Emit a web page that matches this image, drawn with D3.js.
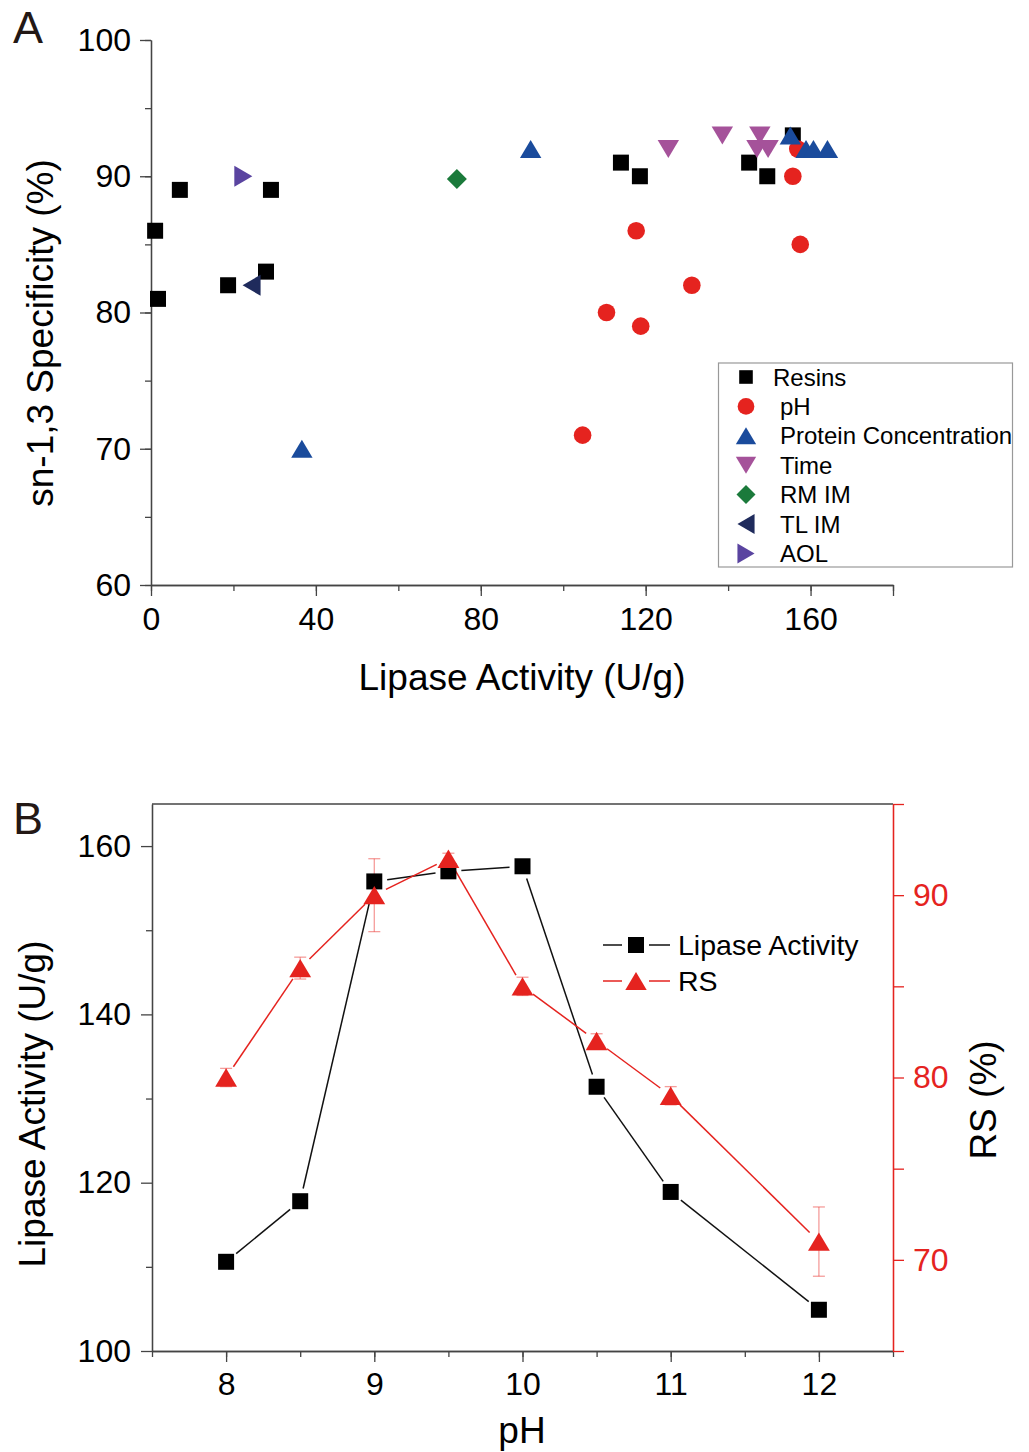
<!DOCTYPE html>
<html>
<head>
<meta charset="utf-8">
<script src="https://cdnjs.cloudflare.com/ajax/libs/d3/7.8.5/d3.min.js"></script>
<style>
  body { margin: 0; background: #fff; }
  svg { display: block; font-family: "Liberation Sans", Arial, sans-serif; }
</style>
</head>
<body>
<div id="chart-area"></div>
<script>
// ---- Panel A data: sn-1,3 specificity vs lipase activity ----
var resinsX = [1.0, 1.7, 7.0, 18.7, 27.9, 29.1, 114.0, 118.6, 145.1, 149.5, 155.7];
var resinsY = [86, 81, 89, 82, 83, 89, 91, 90, 91, 90, 93];
var phX = [104.7, 110.5, 117.7, 118.8, 131.2, 155.7, 156.9, 157.5];
var phY = [71, 80, 86, 79, 82, 90, 92, 85];
var proteinX = [36.6, 92.1, 155.1, 158.9, 160.7, 164.1];
var proteinY = [70, 92, 93, 92, 92, 92];
var timeX = [125.5, 138.6, 147.7, 147.0, 149.7];
var timeY = [92, 93, 93, 92, 92];
var rmX = [74.2], rmY = [89.8];
var tlX = [24.4], tlY = [82];
var aolX = [22.4], aolY = [90];
var seriesNamesA = ["Resins", "pH", "Protein Concentration", "Time", "RM IM", "TL IM", "AOL"];
var xTicksA = [0, 40, 80, 120, 160];
var yTicksA = [60, 70, 80, 90, 100];

// ---- Panel B data: effect of pH ----
var pHs = [8, 8.5, 9, 9.5, 10, 10.5, 11, 12];
var activity = [110.6, 117.8, 155.8, 157.0, 157.6, 131.4, 118.9, 104.9];
var rs = [80, 86, 90, 92, 85, 82, 79, 71];
var rsErr = [0.5, 0.6, 2.0, 0.3, 0.5, 0.4, 0.5, 1.9];
var seriesNamesB = ["Lipase Activity", "RS"];
var xTicksB = [8, 9, 10, 11, 12];
var yTicksBLeft = [100, 120, 140, 160];
var yTicksBRight = [70, 80, 90];

var RED = "#e5231f";
var AXIS = "#444";

var svg = d3.select("#chart-area")
  .append("svg")
    .attr("width", 1029)
    .attr("height", 1452);

svg.append("rect").attr("width", 1029).attr("height", 1452).attr("fill", "#fff");

// marker shapes, centred on (0,0)
function shape(type) {
  switch (type) {
    case "square": return "M-8,-8H8V8H-8Z";
    case "circle": return "M8.8,0A8.8,8.8 0 1,1 -8.8,0A8.8,8.8 0 1,1 8.8,0Z";
    case "up": return "M0,-9L10.7,9H-10.7Z";
    case "down": return "M0,9L10.7,-9H-10.7Z";
    case "diamond": return "M0,-10L10,0L0,10L-10,0Z";
    case "left": return "M-9,0L9,-10.5V10.5Z";
    case "right": return "M9,0L-9,-10.5V10.5Z";
  }
}

function styleAxis(sel, size, color) {
  sel.select(".domain").attr("stroke", color).attr("stroke-width", 1.3);
  sel.selectAll(".tick line").attr("stroke", color).attr("stroke-width", 1.3);
  sel.selectAll(".tick text")
    .attr("font-size", size)
    .attr("font-family", "Liberation Sans, Arial, sans-serif")
    .attr("fill", color === AXIS ? "#000" : color);
}

// ================= PANEL A =================
var xA = d3.scaleLinear().domain([0, 180]).range([151, 893]);
var yA = d3.scaleLinear().domain([60, 100]).range([585, 40]);

// minor ticks
svg.append("g")
  .attr("transform", "translate(0,585)")
  .call(d3.axisBottom(xA).tickValues(d3.range(0, 181, 20)).tickSize(6).tickSizeOuter(0).tickFormat(""))
  .call(styleAxis, 32, AXIS);
svg.append("g")
  .attr("transform", "translate(151,0)")
  .call(d3.axisLeft(yA).tickValues(d3.range(60, 101, 5)).tickSize(6).tickSizeOuter(0).tickFormat(""))
  .call(styleAxis, 32, AXIS);
// major ticks
svg.append("g")
  .attr("transform", "translate(0,585)")
  .call(d3.axisBottom(xA).tickValues(xTicksA.concat([180])).tickSize(11).tickPadding(11).tickSizeOuter(0)
    .tickFormat(function(d){ return d === 180 ? "" : d; }))
  .call(styleAxis, 32, AXIS);
svg.append("g")
  .attr("transform", "translate(151,0)")
  .call(d3.axisLeft(yA).tickValues(yTicksA).tickSize(11).tickPadding(9).tickSizeOuter(0))
  .call(styleAxis, 32, AXIS);

svg.append("text")
  .attr("x", 522).attr("y", 690)
  .attr("text-anchor", "middle")
  .attr("font-size", 37)
  .text("Lipase Activity (U/g)");

svg.append("text")
  .attr("transform", "translate(53,333) rotate(-90)")
  .attr("text-anchor", "middle")
  .attr("font-size", 37)
  .text("sn-1,3 Specificity (%)");

svg.append("text")
  .attr("x", 13).attr("y", 43)
  .attr("font-size", 45)
  .attr("fill", "#231815")
  .text("A");

var groupsA = [
  { xs: resinsX, ys: resinsY, type: "square", color: "#000" },
  { xs: phX, ys: phY, type: "circle", color: RED },
  { xs: proteinX, ys: proteinY, type: "up", color: "#1a4b9c" },
  { xs: timeX, ys: timeY, type: "down", color: "#a5529a" },
  { xs: rmX, ys: rmY, type: "diamond", color: "#1b7a3b" },
  { xs: tlX, ys: tlY, type: "left", color: "#1f2b5c" },
  { xs: aolX, ys: aolY, type: "right", color: "#5a44a0" }
];

groupsA.forEach(function(gr) {
  svg.append("g").selectAll("path")
    .data(gr.xs.map(function(x, i){ return [x, gr.ys[i]]; }))
    .enter().append("path")
      .attr("d", shape(gr.type))
      .attr("fill", gr.color)
      .attr("transform", function(d){ return "translate(" + xA(d[0]) + "," + yA(d[1]) + ")"; });
});

// legend A
var legA = svg.append("g");
legA.append("rect")
  .attr("x", 718.5).attr("y", 363).attr("width", 294).attr("height", 204)
  .attr("fill", "#fff").attr("stroke", "#999").attr("stroke-width", 1.2);
seriesNamesA.forEach(function(name, i) {
  var cy = 377 + i * 29.4;
  legA.append("path")
    .attr("d", shape(groupsA[i].type))
    .attr("fill", groupsA[i].color)
    .attr("transform", "translate(746," + cy + ")" + (i === 0 ? " scale(0.85)" : " scale(0.95)"));
  legA.append("text")
    .attr("x", i === 0 ? 773 : 780).attr("y", cy + 8.5)
    .attr("font-size", 24)
    .text(name);
});

// ================= PANEL B =================
var xB = d3.scaleLinear().domain([7.5, 12.5]).range([152, 893]);
var yBL = d3.scaleLinear().domain([100, 165]).range([1351, 804]);
var yBR = d3.scaleLinear().domain([65, 95]).range([1351, 804]);

// frame top
svg.append("line")
  .attr("x1", 152).attr("x2", 893).attr("y1", 804).attr("y2", 804)
  .attr("stroke", AXIS).attr("stroke-width", 1.3);

svg.append("g")
  .attr("transform", "translate(0,1351)")
  .call(d3.axisBottom(xB).tickValues(d3.range(7.5, 12.6, 0.5)).tickSize(6).tickSizeOuter(0).tickFormat(""))
  .call(styleAxis, 32, AXIS);
svg.append("g")
  .attr("transform", "translate(0,1351)")
  .call(d3.axisBottom(xB).tickValues(xTicksB).tickSize(11).tickPadding(10).tickSizeOuter(0).tickFormat(d3.format("d")))
  .call(styleAxis, 32, AXIS);

svg.append("g")
  .attr("transform", "translate(152,0)")
  .call(d3.axisLeft(yBL).tickValues([110, 130, 150]).tickSize(6).tickSizeOuter(0).tickFormat(""))
  .call(styleAxis, 32, AXIS);
svg.append("g")
  .attr("transform", "translate(152,0)")
  .call(d3.axisLeft(yBL).tickValues(yTicksBLeft).tickSize(11).tickPadding(10).tickSizeOuter(0))
  .call(styleAxis, 32, AXIS);

svg.append("g")
  .attr("transform", "translate(893,0)")
  .call(d3.axisRight(yBR).tickValues([65, 75, 85, 95]).tickSize(11).tickSizeOuter(0).tickFormat(""))
  .call(styleAxis, 32, RED);
svg.append("g")
  .attr("transform", "translate(893,0)")
  .call(d3.axisRight(yBR).tickValues(yTicksBRight).tickSize(11).tickPadding(9).tickSizeOuter(0))
  .call(styleAxis, 32, RED);

svg.append("text")
  .attr("x", 522).attr("y", 1443)
  .attr("text-anchor", "middle")
  .attr("font-size", 37)
  .text("pH");

svg.append("text")
  .attr("transform", "translate(45,1104) rotate(-90)")
  .attr("text-anchor", "middle")
  .attr("font-size", 37)
  .text("Lipase Activity (U/g)");

svg.append("text")
  .attr("transform", "translate(996,1100) rotate(-90)")
  .attr("text-anchor", "middle")
  .attr("font-size", 37)
  .text("RS (%)");

svg.append("text")
  .attr("x", 13).attr("y", 834)
  .attr("font-size", 45)
  .attr("fill", "#231815")
  .text("B");

// connecting segments that stop short of the markers
function gappedLines(xs, ys, xScale, yScale, color, gap) {
  var pts = xs.map(function(x, i){ return [xScale(x), yScale(ys[i])]; });
  var segs = d3.pairs(pts).map(function(p) {
    var dx = p[1][0] - p[0][0], dy = p[1][1] - p[0][1];
    var len = Math.sqrt(dx * dx + dy * dy);
    var ux = dx / len, uy = dy / len;
    return [p[0][0] + ux * gap, p[0][1] + uy * gap, p[1][0] - ux * gap, p[1][1] - uy * gap];
  });
  svg.append("g").selectAll("line")
    .data(segs)
    .enter().append("line")
      .attr("x1", function(d){ return d[0]; })
      .attr("y1", function(d){ return d[1]; })
      .attr("x2", function(d){ return d[2]; })
      .attr("y2", function(d){ return d[3]; })
      .attr("stroke", color)
      .attr("stroke-width", 1.5);
}

// error bars for RS
var eb = svg.append("g")
  .attr("stroke", "rgba(235,60,55,0.5)")
  .attr("stroke-width", 1.3);
pHs.forEach(function(p, i) {
  var cx = xB(p);
  var top = yBR(rs[i] + rsErr[i]), bot = yBR(rs[i] - rsErr[i]);
  eb.append("line").attr("x1", cx).attr("x2", cx).attr("y1", top).attr("y2", bot);
  eb.append("line").attr("x1", cx - 6).attr("x2", cx + 6).attr("y1", top).attr("y2", top);
  eb.append("line").attr("x1", cx - 6).attr("x2", cx + 6).attr("y1", bot).attr("y2", bot);
});

gappedLines(pHs, activity, xB, yBL, "#111", 13);
gappedLines(pHs, rs, xB, yBR, RED, 13);

svg.append("g").selectAll("path")
  .data(pHs)
  .enter().append("path")
    .attr("d", shape("square"))
    .attr("fill", "#000")
    .attr("transform", function(d, i){ return "translate(" + xB(d) + "," + yBL(activity[i]) + ")"; });

svg.append("g").selectAll("path")
  .data(pHs)
  .enter().append("path")
    .attr("d", shape("up"))
    .attr("fill", RED)
    .attr("transform", function(d, i){ return "translate(" + xB(d) + "," + yBR(rs[i]) + ") scale(1.02)"; });

// legend B
var legB = svg.append("g");
[{ c: "#111", t: "square" }, { c: RED, t: "up" }].forEach(function(s, i) {
  var cy = 945 + i * 36;
  legB.append("line").attr("x1", 603).attr("x2", 622).attr("y1", cy).attr("y2", cy)
    .attr("stroke", s.c).attr("stroke-width", 1.5);
  legB.append("line").attr("x1", 649).attr("x2", 670).attr("y1", cy).attr("y2", cy)
    .attr("stroke", s.c).attr("stroke-width", 1.5);
  legB.append("path")
    .attr("d", shape(s.t))
    .attr("fill", s.c === "#111" ? "#000" : RED)
    .attr("transform", "translate(636," + cy + ")");
  legB.append("text")
    .attr("x", 678).attr("y", cy + 10)
    .attr("font-size", 28.5)
    .text(seriesNamesB[i]);
});
</script>
</body>
</html>
